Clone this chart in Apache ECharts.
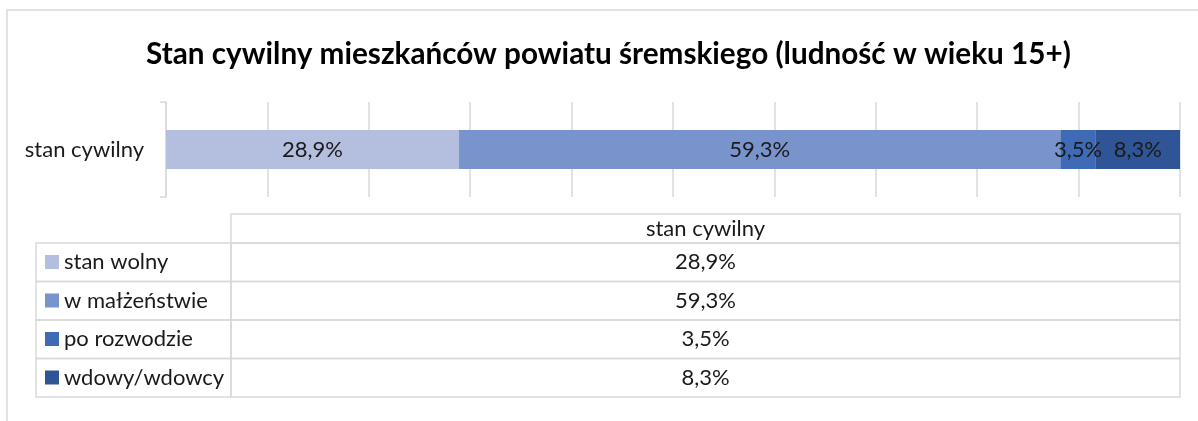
<!DOCTYPE html>
<html>
<head>
<meta charset="UTF-8">
<script src="https://cdn.jsdelivr.net/npm/echarts@6/dist/echarts.min.js"></script>
<style>
  html, body { margin: 0; padding: 0; background: #fff; }
  #main { width: 1198px; height: 421px; }
</style>
</head>
<body>
<div id="main"></div>
<script>
// dane
var categories = ['stan cywilny'];
var seriesNames = ['stan wolny', 'w małżeństwie', 'po rozwodzie', 'wdowy/wdowcy'];
var values = [28.9, 59.3, 3.5, 8.3];
var colors = ['#b4bedf', '#7993cd', '#3f6ab5', '#2f5597'];

var FONT = 'Lato, "Noto Sans", sans-serif';
var GRID_COLOR = '#d9d9d9';
var TXT = '#1a1a1a';

function pct(v) {
    return v.toFixed(1).replace('.', ',') + '%';
}

var myChart = echarts.init(document.getElementById('main'));

var series = [];
for (var i = 0; i < seriesNames.length; i++) {
    series.push({
        name: seriesNames[i],
        type: 'bar',
        stack: 'all',
        barWidth: 39,
        itemStyle: { color: colors[i] },
        label: {
            show: true,
            position: 'inside',
            color: TXT,
            fontFamily: FONT,
            fontSize: 22,
            formatter: function (p) { return pct(p.value); }
        },
        data: [values[i]]
    });
}

// tabela danych pod wykresem
var tabLeft = 36, colSplit = 231, tabRight = 1180;
var headTop = 214, rowTop = 243, rowH = 38.5;
var g = [];
var lineStyle = { stroke: GRID_COLOR, lineWidth: 1.5 };
// ramka wykresu (ucięta)
g.push({ type: 'polyline', shape: { points: [[7, 430], [7, 10], [1210, 10]] }, style: lineStyle, silent: true });
// nagłówek
g.push({ type: 'rect', shape: { x: colSplit, y: headTop, width: tabRight - colSplit, height: rowTop - headTop }, style: { fill: 'none', stroke: GRID_COLOR, lineWidth: 1.5 } });
g.push({
    type: 'text', x: (colSplit + tabRight) / 2, y: (headTop + rowTop) / 2,
    style: { text: categories[0], fill: TXT, font: '22px ' + FONT, textAlign: 'center', textVerticalAlign: 'middle' }
});
for (var r = 0; r < seriesNames.length; r++) {
    var y0 = rowTop + r * rowH;
    g.push({ type: 'rect', shape: { x: tabLeft, y: y0, width: colSplit - tabLeft, height: rowH }, style: { fill: 'none', stroke: GRID_COLOR, lineWidth: 1.5 } });
    g.push({ type: 'rect', shape: { x: colSplit, y: y0, width: tabRight - colSplit, height: rowH }, style: { fill: 'none', stroke: GRID_COLOR, lineWidth: 1.5 } });
    g.push({ type: 'rect', shape: { x: 45, y: y0 + 12, width: 14, height: 14 }, style: { fill: colors[r] } });
    g.push({
        type: 'text', x: 64, y: y0 + rowH / 2,
        style: { text: seriesNames[r], fill: TXT, font: '22px ' + FONT, textAlign: 'left', textVerticalAlign: 'middle' }
    });
    g.push({
        type: 'text', x: (colSplit + tabRight) / 2, y: y0 + rowH / 2,
        style: { text: pct(values[r]), fill: TXT, font: '22px ' + FONT, textAlign: 'center', textVerticalAlign: 'middle' }
    });
}

var option = {
    animation: false,
    backgroundColor: '#fff',
    title: {
        text: 'Stan cywilny mieszkańców powiatu śremskiego (ludność w wieku 15+)',
        left: 141,
        top: 34,
        textStyle: { fontFamily: FONT, fontSize: 29.7, fontWeight: 'bold', color: '#000' }
    },
    grid: { left: 166, right: 18, top: 102, bottom: 224, containLabel: false },
    xAxis: {
        type: 'value',
        min: 0,
        max: 100,
        interval: 10,
        axisLabel: { show: false },
        axisLine: { show: false },
        axisTick: { show: false },
        splitLine: { show: true, lineStyle: { color: GRID_COLOR, width: 1.5 } }
    },
    yAxis: {
        type: 'category',
        data: categories,
        axisLine: { show: true, lineStyle: { color: GRID_COLOR, width: 1.5 } },
        axisTick: { show: true, length: 6, lineStyle: { color: GRID_COLOR, width: 1.5 } },
        axisLabel: { margin: 22, color: TXT, fontFamily: FONT, fontSize: 22 }
    },
    graphic: g,
    series: series
};

myChart.setOption(option);
</script>
</body>
</html>
